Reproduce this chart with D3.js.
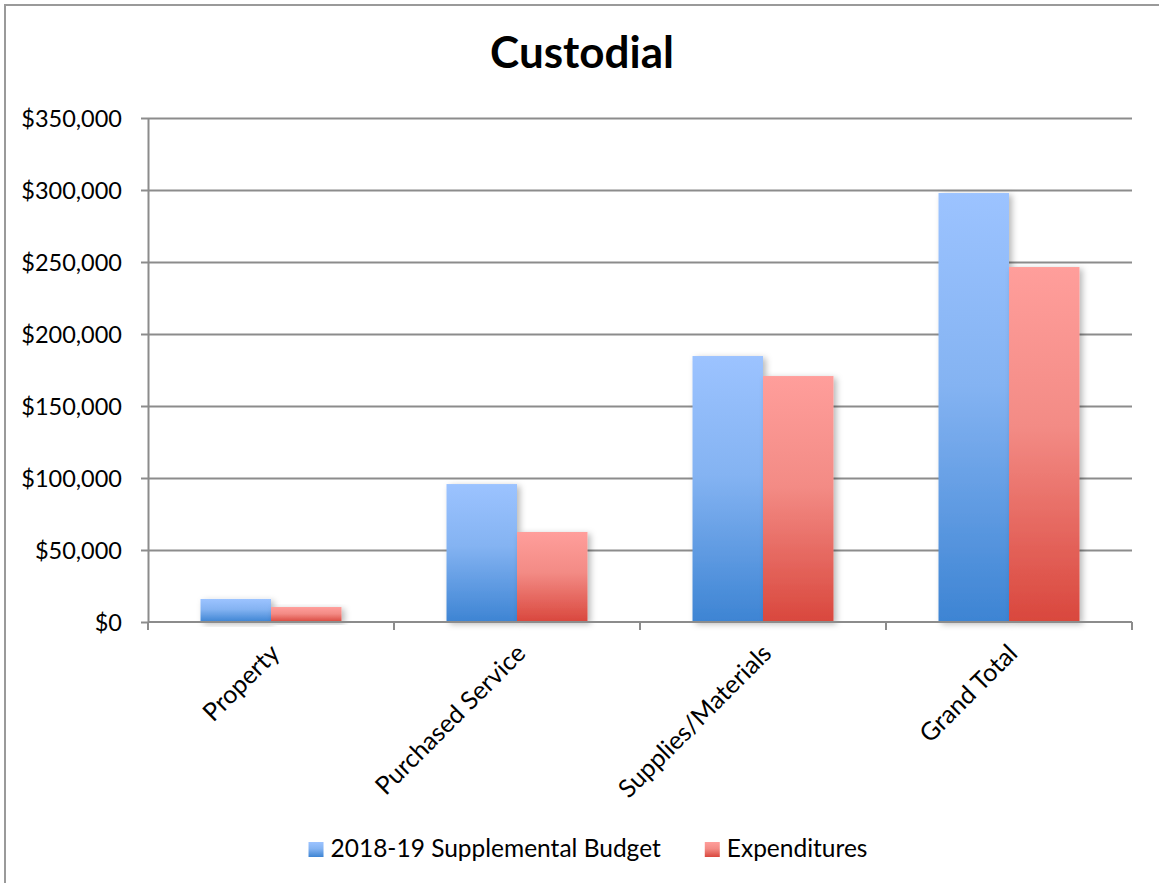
<!DOCTYPE html>
<html>
<head>
<meta charset="utf-8">
<script src="https://cdn.jsdelivr.net/npm/d3@7"></script>
<style>
  html, body { margin: 0; padding: 0; background: #fff; }
  svg { display: block; font-family: Lato, "Open Sans", sans-serif; }
</style>
</head>
<body>
<svg id="chart" width="1159" height="883"></svg>
<script>
// Custodial budget vs. expenditures by category
const categories = ["Property", "Purchased Service", "Supplies/Materials", "Grand Total"];
const seriesNames = ["2018-19 Supplemental Budget", "Expenditures"];
const budget = [16000, 95800, 184700, 297900];
const expenditures = [10400, 62500, 170800, 246500];
const yTicks = [0, 50000, 100000, 150000, 200000, 250000, 300000, 350000];
const chartTitle = "Custodial";

const rows = categories.map((c, i) => ({ category: c, values: [budget[i], expenditures[i]] }));

const svg = d3.select("#chart");
const W = 1159, H = 883;
const plot = { left: 148, right: 1132, top: 118, bottom: 622 };

svg.append("rect").attr("width", W).attr("height", H).attr("fill", "#fff");

// chart area border (left and top edges)
svg.append("path")
  .attr("d", `M5,${H} V5 H${W}`)
  .attr("fill", "none")
  .attr("stroke", "#9a9a9a")
  .attr("stroke-width", 2);

const defs = svg.append("defs");
const gradStops = [
  [["0%", "#9cc3ff"], ["45%", "#84b3f2"], ["100%", "#3d84d3"]],
  [["0%", "#ff9e9b"], ["45%", "#f38b85"], ["100%", "#d9473d"]]
];
gradStops.forEach((stops, i) => {
  const g = defs.append("linearGradient")
    .attr("id", "grad" + i)
    .attr("x1", 0).attr("y1", 0).attr("x2", 0).attr("y2", 1);
  stops.forEach(s => g.append("stop").attr("offset", s[0]).attr("stop-color", s[1]));
});
const shadow = defs.append("filter").attr("id", "barShadow")
  .attr("x", "-20%").attr("y", "-20%").attr("width", "140%").attr("height", "140%");
shadow.append("feDropShadow")
  .attr("dx", 3).attr("dy", 2).attr("stdDeviation", 3)
  .attr("flood-color", "#000").attr("flood-opacity", 0.28);

const y = d3.scaleLinear().domain([0, 350000]).range([plot.bottom, plot.top]);
const x = d3.scaleBand().domain(categories).range([plot.left, plot.right]).paddingInner(0).paddingOuter(0);
const x1 = d3.scaleBand().domain(seriesNames).range([0, x.bandwidth()]).paddingInner(0).paddingOuter(0.745);

const fmt = v => "$" + d3.format(",")(v);
const axisColor = "#8c8c8c";

// horizontal gridlines
svg.append("g")
  .attr("transform", `translate(${plot.left},0)`)
  .call(d3.axisLeft(y).tickValues(yTicks.filter(v => v > 0)).tickSize(-(plot.right - plot.left)).tickFormat(""))
  .call(g => g.select(".domain").remove())
  .call(g => g.selectAll("line").attr("stroke", axisColor).attr("stroke-width", 2));

// y axis with tick labels
svg.append("g")
  .attr("transform", `translate(${plot.left},0)`)
  .call(d3.axisLeft(y).tickValues(yTicks).tickSize(7).tickSizeOuter(0).tickPadding(19).tickFormat(fmt))
  .call(g => g.select(".domain").attr("stroke", axisColor).attr("stroke-width", 2))
  .call(g => g.selectAll("line").attr("stroke", axisColor).attr("stroke-width", 2))
  .call(g => g.selectAll("text").attr("font-size", 23.5).attr("fill", "#000")
    .attr("font-family", "Lato, sans-serif").attr("dy", "0.36em"));

// bars
const groups = svg.append("g").selectAll("g")
  .data(rows).join("g")
  .attr("transform", d => `translate(${x(d.category)},0)`);
groups.selectAll("rect")
  .data(d => d.values.map((v, i) => ({ key: seriesNames[i], value: v, i })))
  .join("rect")
  .attr("x", d => x1(d.key))
  .attr("width", x1.bandwidth())
  .attr("y", d => y(d.value))
  .attr("height", d => y(0) - y(d.value))
  .attr("fill", d => `url(#grad${d.i})`)
  .attr("filter", "url(#barShadow)");

// x axis baseline with boundary ticks
const xAxis = svg.append("g");
xAxis.append("line")
  .attr("x1", plot.left).attr("x2", plot.right)
  .attr("y1", y(0)).attr("y2", y(0))
  .attr("stroke", axisColor).attr("stroke-width", 2);
const bounds = categories.map(c => x(c)).concat([x.range()[1]]);
xAxis.selectAll("line.tick").data(bounds).join("line")
  .attr("class", "tick")
  .attr("x1", d => d).attr("x2", d => d)
  .attr("y1", y(0)).attr("y2", y(0) + 8)
  .attr("stroke", axisColor).attr("stroke-width", 2);

// rotated category labels
xAxis.selectAll("text").data(categories).join("text")
  .attr("transform", d => `translate(${x(d) + x.bandwidth() / 2 + 10},${y(0) + 33}) rotate(-45)`)
  .attr("text-anchor", "end")
  .attr("font-size", 25)
  .attr("fill", "#000")
  .text(d => d);

// title
svg.append("text")
  .attr("x", 582).attr("y", 68)
  .attr("text-anchor", "middle")
  .attr("font-size", 44)
  .attr("font-weight", "bold")
  .attr("fill", "#000")
  .text(chartTitle);

// legend
const legend = svg.append("g");
const items = legend.selectAll("g").data(seriesNames).join("g");
items.append("rect")
  .attr("width", 15).attr("height", 15)
  .attr("y", 842)
  .attr("fill", (d, i) => `url(#grad${i})`);
items.append("text")
  .attr("x", 22).attr("y", 857)
  .attr("font-size", 24.5)
  .attr("fill", "#000")
  .text(d => d);
let cursor = 0;
const offsets = [];
items.each(function () {
  offsets.push(cursor);
  const w = this.querySelector("text").getComputedTextLength();
  cursor += 22 + w + 44;
});
const legendWidth = cursor - 44;
const legendStart = 588 - legendWidth / 2;
items.attr("transform", (d, i) => `translate(${legendStart + offsets[i]},0)`);
</script>
</body>
</html>
